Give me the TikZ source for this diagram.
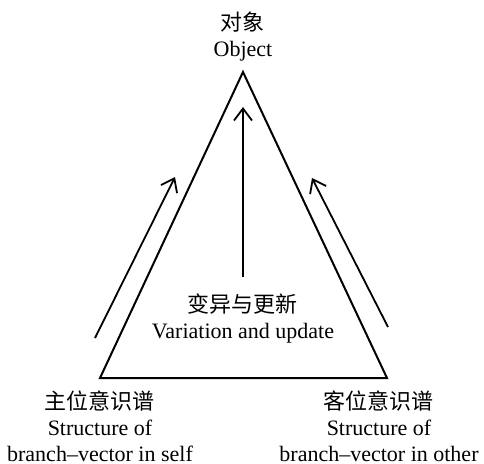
\documentclass[tikz,border=0pt]{standalone}
\usepackage{fontspec}
\setmainfont{Liberation Serif}
\newfontfamily\cjk{Noto Sans CJK SC}
\usetikzlibrary{arrows.meta}

\begin{document}
\begin{tikzpicture}[x=0.5pt, y=-0.5pt, every node/.style={font=\fontsize{11}{13}\selectfont, align=center, inner sep=0pt}, flow/.style={-{Straight Barb[length=6pt,width=9pt]}, line width=0.9pt}]
        \useasboundingbox (0,0) rectangle (484,463);
        % triangle corners
        \coordinate (apex) at (243,72);
        \coordinate (selfc) at (100,378);
        \coordinate (otherc) at (387,378);
        \draw[line width=1pt] (apex) -- (selfc) -- (otherc) -- cycle;
        % labels
        \node (obj) at (243,37) {{\cjk 对象}\\Object};
        \node (var) at (243,318) {{\cjk 变异与更新}\\Variation and update};
        \node (self) at (100,426) {{\cjk 主位意识谱}\\Structure of\\branch--vector in self};
        \node (other) at (379,426) {{\cjk 客位意识谱}\\Structure of\\branch--vector in other};
        % arrows
        \coordinate (vlow) at (243,277);
        \coordinate (vhigh) at (243,107);
        \coordinate (slow) at (95,338);
        \coordinate (shigh) at (175,177);
        \coordinate (olow) at (388,327);
        \coordinate (ohigh) at (312,178);
        \draw[flow] (vlow) -- (vhigh);
        \draw[flow] (slow) -- (shigh);
        \draw[flow] (olow) -- (ohigh);
      \end{tikzpicture}
\end{document}
